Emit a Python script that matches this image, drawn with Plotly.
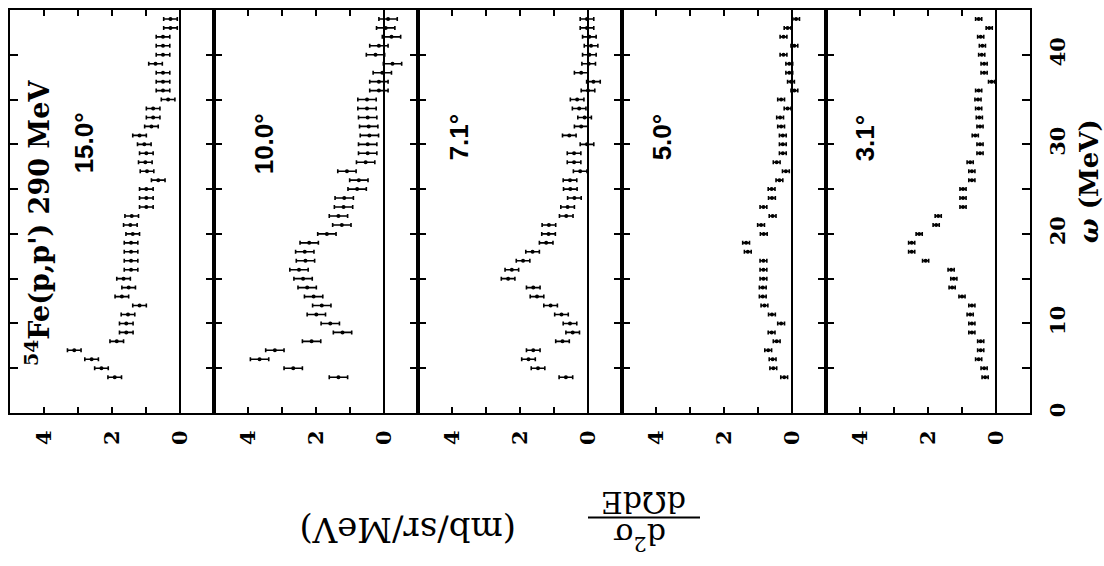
import plotly.graph_objects as go
from plotly.subplots import make_subplots

# excitation energy omega (MeV), 1 MeV bins
omega = list(range(4, 45))

# d2sigma/dOmega dE (mb/sr/MeV) for each scattering angle
xs_15_0 = [1.92, 2.31, 2.60, 3.11, 1.86, 1.58, 1.58, 1.53, 1.19, 1.71,
           1.51, 1.66, 1.44, 1.44, 1.44, 1.44, 1.39, 1.46, 1.42, 0.99,
           0.99, 0.99, 0.64, 0.97, 1.02, 0.99, 1.05, 1.19, 0.84, 0.79,
           0.79, 0.35, 0.50, 0.50, 0.50, 0.72, 0.50, 0.50, 0.50, 0.28,
           0.28]
xs_10_0 = [1.34, 2.67, 3.66, 3.21, 2.13, 1.22, 1.58, 1.99, 1.83, 2.07,
           2.26, 2.38, 2.50, 2.31, 2.33, 2.20, 1.68, 1.24, 1.34, 1.19,
           1.17, 0.79, 0.74, 1.09, 0.54, 0.48, 0.48, 0.43, 0.45, 0.48,
           0.50, 0.50, 0.15, 0.15, 0.05, -0.25, 0.25, 0.15, -0.22, -0.05,
           -0.12]
xs_7_1 = [0.65, 1.47, 1.75, 1.61, 0.75, 0.45, 0.53, 0.78, 1.10, 1.50,
          1.61, 2.35, 2.24, 1.91, 1.63, 1.23, 1.16, 1.15, 0.64, 0.60,
          0.40, 0.52, 0.53, 0.23, 0.41, 0.41, 0.03, 0.55, 0.20, 0.10,
          0.26, 0.32, 0.00, -0.16, 0.20, -0.02, -0.04, -0.09, -0.04, 0.03,
          0.03]
xs_5_0 = [0.23, 0.55, 0.57, 0.70, 0.45, 0.60, 0.32, 0.59, 0.81, 0.86,
          0.86, 0.84, 0.84, 0.84, 1.30, 1.35, 0.83, 0.91, 0.57, 0.84,
          0.59, 0.60, 0.37, 0.18, 0.45, 0.27, 0.27, 0.27, 0.32, 0.35,
          0.13, 0.32, -0.07, 0.03, 0.08, 0.08, 0.25, -0.07, 0.25, 0.13,
          -0.12]
xs_3_1 = [0.32, 0.35, 0.51, 0.45, 0.45, 0.71, 0.71, 0.76, 0.71, 1.00,
          1.29, 1.24, 1.32, 2.07, 2.48, 2.48, 2.26, 1.76, 1.70, 0.97,
          0.97, 0.97, 0.71, 0.71, 0.76, 0.47, 0.47, 0.61, 0.47, 0.49,
          0.51, 0.53, 0.51, 0.13, 0.35, 0.35, 0.42, 0.40, 0.45, 0.20,
          0.51]

series = [xs_15_0, xs_10_0, xs_7_1, xs_5_0, xs_3_1]
angle_labels = ["15.0°", "10.0°", "7.1°", "5.0°", "3.1°"]
errors = [0.20, 0.27, 0.20, 0.10, 0.09]

xs_tickvals = [0, 1, 2, 3, 4]
xs_ticktext = ["0", "", "2", "", "4"]
w_tickvals = [0, 5, 10, 15, 20, 25, 30, 35, 40]
w_ticktext = ["0", "", "10", "", "20", "", "30", "", "40"]

W, H = 1104, 566
L, R, T, B = 10, 74, 8, 153


def paper(X, Y):
    return (X - L) / (W - L - R), (H - B - Y) / (H - B - T)


fig = make_subplots(rows=1, cols=5, shared_yaxes=True, horizontal_spacing=0)

for i, vals in enumerate(series):
    fig.add_trace(go.Scatter(
        x=vals, y=omega, mode="markers",
        marker=dict(size=4, color="black"),
        error_x=dict(type="constant", value=errors[i], thickness=1.6,
                     width=2, color="black"),
        showlegend=False, hoverinfo="skip"), row=1, col=i + 1)

tickfont = dict(family="DejaVu Serif", size=21, color="black", weight="bold")
for i in range(5):
    fig.update_xaxes(
        range=[5, -1], tickvals=xs_tickvals, ticktext=xs_ticktext,
        ticks="inside", ticklen=6, tickwidth=2, tickcolor="black",
        mirror="ticks", showline=True, linewidth=2, linecolor="black",
        showgrid=False, zeroline=True, zerolinecolor="black",
        zerolinewidth=2, tickangle=-90, tickfont=tickfont,
        ticklabelstandoff=7, row=1, col=i + 1)
    fig.update_yaxes(
        range=[0, 45], tickvals=w_tickvals, ticktext=w_ticktext,
        ticks="inside", ticklen=8, tickwidth=2, tickcolor="black",
        mirror="ticks", showline=True, linewidth=1.5, linecolor="black",
        showgrid=False, zeroline=False, showticklabels=False,
        row=1, col=i + 1)

fig.update_yaxes(side="right", showticklabels=True, tickangle=-90,
                 tickfont=tickfont, ticklabelstandoff=8, linewidth=2,
                 row=1, col=5)
fig.update_yaxes(linewidth=2, row=1, col=1)

annotations = []
serif_b = dict(family="DejaVu Serif", color="black", weight="bold")
sans_b = dict(family="Liberation Sans", color="black", weight="bold")


def add_text(X, Y, text, angle, font):
    ax, ay = paper(X, Y)
    annotations.append(dict(x=ax, y=ay, xref="paper", yref="paper",
                            xanchor="center", yanchor="middle",
                            text=text, textangle=angle, showarrow=False,
                            font=font))


add_text(38, 222, "<sup>54</sup>Fe(p,p') 290 MeV", -90,
         dict(size=27, **serif_b))

angle_pos = [(84, 142), (264, 143), (459, 136), (662, 136), (865, 137)]
for lab, (X, Y) in zip(angle_labels, angle_pos):
    add_text(X, Y, lab, -90, dict(size=26, **sans_b))

add_text(1089, 180, "<i>ω</i> (MeV)", -90, dict(size=26, **serif_b))

serif = dict(family="DejaVu Serif", color="black")
add_text(408, 530, "(mb/sr/MeV)", 180, dict(size=34, **serif))
add_text(644, 503, "dΩdE", 180, dict(size=30, **serif))
add_text(640, 537, "d<sup>2</sup>σ", 180, dict(size=30, **serif))

x0, yb = paper(588, 518)
x1, _ = paper(700, 518)

fig.update_layout(
    width=W, height=H,
    margin=dict(l=L, r=R, t=T, b=B),
    paper_bgcolor="white", plot_bgcolor="white",
    annotations=annotations,
    shapes=[dict(type="line", xref="paper", yref="paper",
                 x0=x0, x1=x1, y0=yb, y1=yb,
                 line=dict(color="black", width=2))],
)

fig.write_html("out.html")
